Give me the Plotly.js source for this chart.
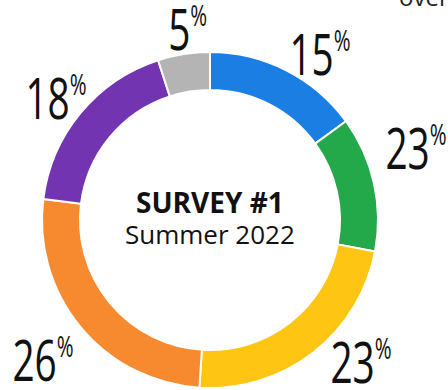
<!DOCTYPE html>
<html>
<head>
<meta charset="utf-8">
<script src="https://cdn.plot.ly/plotly-3.0.1.min.js"></script>
<style>
  html, body { margin: 0; padding: 0; background: #fff; }
  #chart { width: 448px; height: 390px; }
</style>
</head>
<body>
<div id="chart"></div>
<script>
// Data
const categories = ["Blue", "Green", "Yellow", "Orange", "Purple", "Gray"];
const sliceValues = [15, 13, 23, 26, 18, 5];            // slice sizes as drawn
const labelValues = ["15", "23", "23", "26", "18", "5"]; // percentages as printed
const centerTitle = "SURVEY #1";
const centerSubtitle = "Summer 2022";
const cornerText = "overall";

// Styles
const sliceColors = ["#1b7ee3", "#23a84a", "#ffc512", "#f78a2e", "#7234b0", "#b4b4b4"];
const plotSizePx = 336;       // pie domain size in pixels
const labelRadiusPx = 205;    // distance of the labels from the centre
const labelNudgeX = [17, 6, 25, -9, 4, 10];
const labelNudgeY = [-16, 28, 21, -8, -8, -10];
const labelFont = "Open Sans, Noto Sans, sans-serif";

const trace = {
  type: "pie",
  labels: categories,
  values: sliceValues,
  textinfo: "none",
  hoverinfo: "skip",
  hole: 0.774,
  sort: false,
  direction: "clockwise",
  rotation: 0,
  marker: { colors: sliceColors, line: { color: "#ffffff", width: 2 } },
  showlegend: false
};

// Label anchors at each slice's middle angle, derived from the values
const total = sliceValues.reduce((a, b) => a + b, 0);
let cum = 0;
const labelAnnotations = sliceValues.map((v, i) => {
  const mid = (cum + v / 2) / total * 2 * Math.PI;
  cum += v;
  const r = labelRadiusPx / plotSizePx;
  return {
    text: labelValues[i] + "<sup><span style='font-size:30px'>%</span></sup>",
    x: 0.5 + r * Math.sin(mid),
    y: 0.5 + r * Math.cos(mid),
    xref: "paper", yref: "paper",
    xanchor: "center", yanchor: "middle",
    xshift: labelNudgeX[i], yshift: labelNudgeY[i],
    showarrow: false,
    font: { family: labelFont, size: 57, color: "#111111" }
  };
});

const layout = {
  width: 448,
  height: 390,
  margin: { l: 42, r: 70, t: 52, b: 2 },
  paper_bgcolor: "#ffffff",
  plot_bgcolor: "#ffffff",
  showlegend: false,
  annotations: labelAnnotations.concat([
    {
      text: "<span style='font-size:28px'><b>" + centerTitle + "</b></span><br>" +
            "<span style='font-size:26px'>" + centerSubtitle + "</span>",
      x: 0.5, y: 0.5, xref: "paper", yref: "paper",
      xanchor: "center", yanchor: "middle", yshift: 3,
      showarrow: false,
      font: { family: "Open Sans, Noto Sans, sans-serif", size: 24, color: "#111111" }
    },
    {
      text: cornerText,
      x: 1.057, y: 1.11, xref: "paper", yref: "paper",
      xanchor: "left", yanchor: "bottom",
      showarrow: false,
      font: { family: "Open Sans, Noto Sans, sans-serif", size: 24, color: "#222222" }
    }
  ])
};

Plotly.newPlot("chart", [trace], layout, { displayModeBar: false, staticPlot: true }).then(() => {
  // Narrow the big percentage labels horizontally (the reference uses a condensed face)
  const texts = document.querySelectorAll("#chart .annotation-text-g text");
  texts.forEach((t, i) => {
    if (i < labelValues.length) {
      t.style.transformBox = "fill-box";
      t.style.transformOrigin = "center";
      t.style.transform = "scaleX(0.68)";
    }
  });
});
</script>
</body>
</html>
